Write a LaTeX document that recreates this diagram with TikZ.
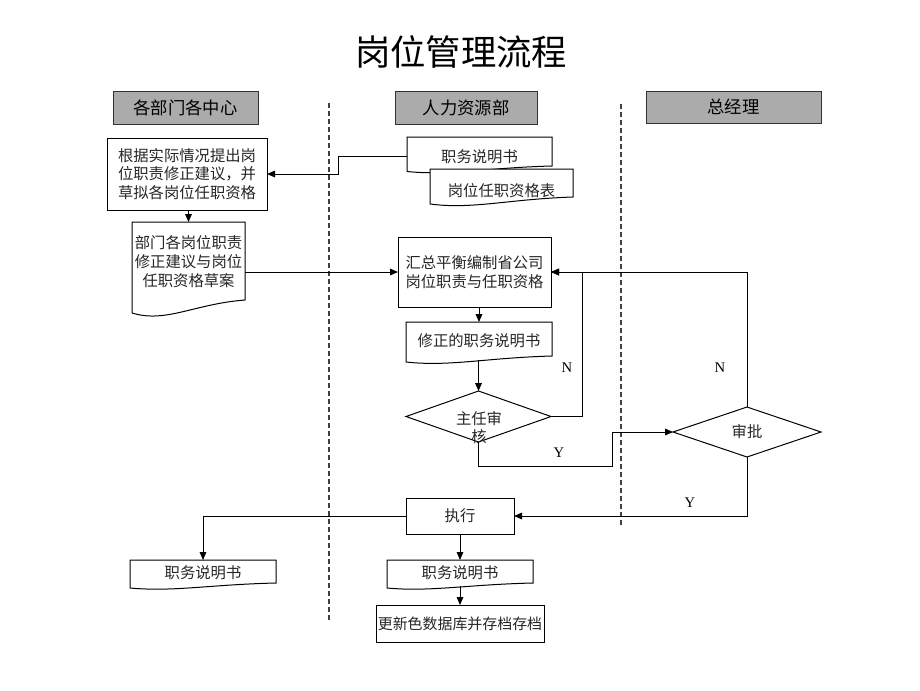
\documentclass[tikz,border=0pt]{standalone}
\usepackage{fontspec}
\setmainfont{Liberation Serif}
\newfontfamily\cjk{Noto Sans CJK SC}
\usetikzlibrary{arrows.meta,shapes.geometric,calc,backgrounds}

\tikzset{
  every node/.style={inner sep=0pt, outer sep=0pt},
  sz/.style 2 args={minimum width=#1*0.75pt, minimum height=#2*0.75pt},
  titletext/.style={font=\cjk\fontsize{26.5}{30}\selectfont},
  lane/.style={draw=black!80, fill=black!33, line width=0.75pt,
    font=\cjk\fontsize{13}{15}\selectfont},
  procbox/.style={draw, line width=0.75pt, fill=white, align=center,
    font=\cjk\fontsize{11.5}{14}\selectfont, text=black!85},
  docnode/.style={align=center, font=\cjk\fontsize{11.5}{14}\selectfont, text=black!85},
  plaintext/.style={align=center, font=\cjk\fontsize{11.5}{13.5}\selectfont, text=black!85},
  decision/.style={diamond, draw, line width=0.75pt, font=\cjk\fontsize{11.5}{14}\selectfont, text=black!85},
  conn/.style={line width=0.75pt, -{Triangle[length=6pt,width=5pt]}},
  laneline/.style={line width=0.8pt, draw=black!75, dash pattern=on 3.5pt off 2.5pt},
  yn/.style={font=\fontsize{11}{13}\selectfont},
  docline/.style={line width=0.75pt, fill=white}
}

% document outline: name, right end raise (px), left end raise (px)
\newcommand\docout[3]{%
  \coordinate (#1L) at ($(#1.south west)+(0,{-(#3)})$);
  \coordinate (#1R) at ($(#1.south east)+(0,{-(#2)})$);
  \draw[docline] (#1L) -- (#1.north west) -- (#1.north east) -- (#1R)
    .. controls ($(#1L)!0.55!(#1R)+(0,{-0.15*((#2)-(#3))})$)
    and ($(#1L)!0.3!(#1R)+(0,{1.1*((#2)-(#3))})$) .. (#1L) -- cycle;}

\begin{document}
\begin{tikzpicture}[x=0.75pt,y=-0.75pt]
\useasboundingbox (0,0) rectangle (920,690);

% title and lane headers
\node[titletext] (title) at (461,52) {岗位管理流程};
\node[lane, sz={145}{33}] (h1) at (185.5,107.5) {各部门各中心};
\node[lane, sz={142}{33}] (h2) at (466,107.5) {人力资源部};
\node[lane, sz={175}{32}] (h3) at (733.5,107) {总经理};

% lane separators
\coordinate (s1t) at (329,103);
\coordinate (s1b) at (329,620);
\coordinate (s2t) at (621,104);
\coordinate (s2b) at (621,525);
\draw[laneline] (s1t) -- (s1b);
\draw[laneline] (s2t) -- (s2b);

% nodes
\node[procbox, sz={160}{72}] (b1) at (187,174) {根据实际情况提出岗\\位职责修正建议，并\\草拟各岗位任职资格};
\node[docnode, sz={145}{39}] (d1) at (479.5,156.5) {职务说明书};
\node[docnode, sz={143}{43}] (d2) at (501.5,190.5) {岗位任职资格表};
\node[docnode, sz={113}{79}] (d3) at (188.5,261.5) {部门各岗位职责\\修正建议与岗位\\任职资格草案};
\node[procbox, sz={153}{70}] (hz) at (474.5,272) {汇总平衡编制省公司\\岗位职责与任职资格};
\node[docnode, sz={146}{38}] (d4) at (479,341) {修正的职务说明书};
\node[decision, sz={145}{51}] (zr) at (478.5,416.5) {};
\node[plaintext] (zrt) at (479,428) {主任审\\核};
\node[decision, sz={148}{50}] (sp) at (747,432) {审批};
\node[procbox, sz={108}{36}] (zx) at (460,516) {执行};
\node[docnode, sz={146}{26}] (d5) at (203,573) {职务说明书};
\node[docnode, sz={146}{26}] (d6) at (460,573) {职务说明书};
\node[procbox, sz={168}{37}, font=\cjk\fontsize{11.2}{13}\selectfont] (gx) at (460,623.5) {更新色数据库并存档存档};

% document outlines behind their texts
\begin{pgfonlayer}{background}
  \fill[white] (0,0) rectangle (920,690);
  \docout{d1}{10}{4.5}
  \docout{d2}{15}{8}
  \docout{d3}{1}{-12}
  \docout{d4}{4}{-2}
  \docout{d5}{3}{-2}
  \docout{d6}{3}{-2}
\end{pgfonlayer}

% connectors
\coordinate (k1) at (338,0);
\draw[conn] (d1.west) -- (d1.west -| k1) -- (k1 |- b1.east) -- (b1.east);
\draw[conn] (d3.north |- b1.south) -- (d3.north);
\draw[conn] (d3.east |- hz.west) -- (hz.west);
\draw[conn] (d4.north |- hz.south) -- (d4.north);
\draw[conn] (zr.north |- d4.south) -- (zr.north);
\coordinate (k2) at (582,0);
\draw[conn] (zr.east) -- (zr.east -| k2) -- (k2 |- hz.east) -- (hz.east);
\draw[conn] (sp.north) -- (sp.north |- hz.east) -- (hz.east);
\coordinate (k3) at (612,466);
\draw[conn] (zr.south) -- (zr.south |- k3) -- (k3) -- (k3 |- sp.west) -- (sp.west);
\draw[conn] (sp.south) -- (sp.south |- zx.east) -- (zx.east);
\draw[conn] (zx.west) -- (zx.west -| d5.north) -- (d5.north);
\draw[conn] (zx.south) -- (d6.north);
\draw[conn] (d6.south) -- (gx.north);

% labels
\node[yn] (n1) at (567,368) {N};
\node[yn] (n2) at (720,368) {N};
\node[yn] (y1) at (559,453) {Y};
\node[yn] (y2) at (690,503) {Y};
\end{tikzpicture}
\end{document}
